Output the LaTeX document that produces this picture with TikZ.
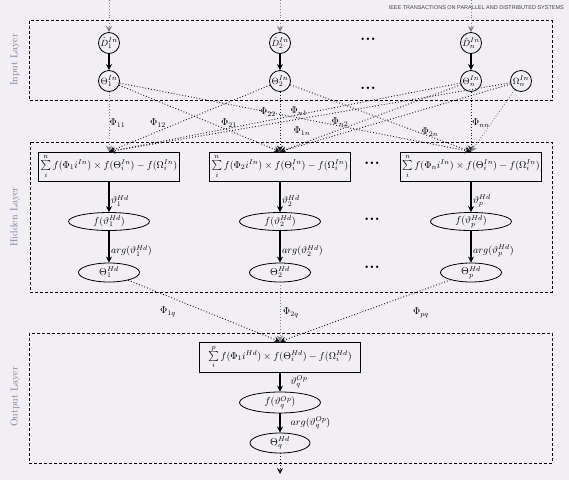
\documentclass[tikz,border=0pt]{standalone}
\usepackage{amsmath}
\usepackage{fontspec}
\newfontfamily\headfont{Liberation Sans}
\usetikzlibrary{shapes.geometric,arrows.meta}
\definecolor{bgc}{HTML}{F2EFF4}
\definecolor{layc}{HTML}{7D7B9E}
\definecolor{dotc}{HTML}{1A1A1A}
\begin{document}
\begin{tikzpicture}[x=1pt,y=-1pt,
  every node/.style={font=\fontsize{10}{12}\selectfont},
  layerbox/.style={draw, dash pattern=on 3pt off 2pt, line width=0.8pt},
  layerlabel/.style={rotate=90, text=layc, inner sep=0pt, font=\fontsize{10}{12}\selectfont},
  incirc/.style={circle, draw, line width=0.8pt, minimum size=21pt, inner sep=0pt, font=\fontsize{9.5}{11}\selectfont},
  sumbox/.style={draw, line width=0.8pt, minimum width=141pt, minimum height=29pt, inner sep=1pt, font=\fontsize{10}{12}\selectfont},
  fell/.style={ellipse, draw, line width=0.8pt, minimum width=81pt, minimum height=18pt, inner sep=0pt},
  tell/.style={ellipse, draw, line width=0.8pt, minimum width=61pt, minimum height=19pt, inner sep=0pt},
  sarr/.style={-{Stealth[length=6pt,width=6pt]}, line width=1.1pt},
  darr/.style={dotted, line width=0.9pt, draw=dotc, -{Stealth[length=6pt,width=6pt]}},
  garr/.style={darr, draw=gray},
  ellipsisnode/.style={font=\fontsize{17}{17}\bfseries\selectfont, inner sep=0pt},
  lab/.style={inner sep=0pt}
]
\fill[bgc] (0,0) rectangle (569,480);
\useasboundingbox (0,0) rectangle (569,480);

% header
\node[anchor=east, inner sep=0pt, text=black!75, font=\headfont\fontsize{5.5}{6}\selectfont] (hdr) at (564,7.5) {IEEE TRANSACTIONS ON PARALLEL AND DISTRIBUTED SYSTEMS};

% layer boxes
\draw[layerbox] (29,20.5) rectangle (552,100);
\draw[layerbox] (30,142) rectangle (552,292);
\draw[layerbox] (29,333) rectangle (552,463);
\node[layerlabel] (Lin) at (15,60) {Input Layer};
\node[layerlabel] (Lhd) at (15,217) {Hidden Layer};
\node[layerlabel] (Lout) at (15,397) {Output Layer};

% input layer
\coordinate (in1) at (109,0);
\coordinate (in2) at (280,0);
\coordinate (inn) at (471,0);
\node[incirc] (D1) at (109,43) {$\hat{D}_1^{In}$};
\node[incirc] (D2) at (280,43) {$\hat{D}_2^{In}$};
\node[incirc] (Dn) at (471,43) {$\hat{D}_n^{In}$};
\node[incirc] (T1) at (109,81) {$\Theta_1^{In}$};
\node[incirc] (T2) at (280,81) {$\Theta_2^{In}$};
\node[incirc] (Tn) at (471,81) {$\Theta_n^{In}$};
\node[incirc] (On) at (521,81) {$\Omega_n^{In}$};
\node[ellipsisnode] (e1) at (368,39) {...};
\node[ellipsisnode] (e2) at (368,88) {...};

\draw[garr] (in1) -- (D1);
\draw[garr] (in2) -- (D2);
\draw[garr] (inn) -- (Dn);
\draw[sarr] (D1) -- (T1);
\draw[sarr] (D2) -- (T2);
\draw[sarr] (Dn) -- (Tn);

% hidden layer
\node[sumbox] (S1) at (109,166.5) {$\sum\limits_i^n f(\Phi_1 i^{In})\times f(\Theta_i^{In})-f(\Omega_i^{In})$};
\node[sumbox] (S2) at (280,166.5) {$\sum\limits_i^n f(\Phi_2 i^{In})\times f(\Theta_i^{In})-f(\Omega_i^{In})$};
\node[sumbox] (Sn) at (471,166.5) {$\sum\limits_i^n f(\Phi_n i^{In})\times f(\Theta_i^{In})-f(\Omega_i^{In})$};
\node[fell] (F1) at (109,221.5) {$f(\vartheta_1^{Hd})$};
\node[fell] (F2) at (280,221.5) {$f(\vartheta_2^{Hd})$};
\node[fell] (Fp) at (471,221.5) {$f(\vartheta_p^{Hd})$};
\node[tell] (H1) at (109,272.5) {$\Theta_1^{Hd}$};
\node[tell] (H2) at (280,272.5) {$\Theta_2^{Hd}$};
\node[tell] (Hp) at (471,272.5) {$\Theta_p^{Hd}$};
\node[ellipsisnode] (e3) at (372,163) {...};
\node[ellipsisnode] (e4) at (372,219) {...};
\node[ellipsisnode] (e5) at (372,267) {...};

% input -> hidden connections
\draw[garr] (T1) -- (S1.north);
\draw[darr] (T1) -- (S2.north);
\draw[darr] (T1) -- (Sn.north);
\draw[darr] (T2) -- (S1.north);
\draw[darr] (T2) -- (S2.north);
\draw[darr] (T2) -- (Sn.north);
\draw[darr] (Tn) -- (S1.north);
\draw[darr] (Tn) -- (S2.north);
\draw[darr] (Tn) -- (Sn.north);
\draw[darr] (On) -- (S1.north);
\draw[darr] (On) -- (S2.north);
\draw[garr] (On) -- (Sn.north);

\node[lab] (p11) at (117.5,123) {$\Phi_{11}$};
\node[lab] (p12) at (158,123) {$\Phi_{12}$};
\node[lab] (p21) at (229,123) {$\Phi_{21}$};
\node[lab] (p22) at (268,112) {$\Phi_{22}$};
\node[lab] (pn1) at (299,111) {$\Phi_{n1}$};
\node[lab] (pn2) at (340,122) {$\Phi_{n2}$};
\node[lab] (p1n) at (302,131) {$\Phi_{1n}$};
\node[lab] (p2n) at (430,132) {$\Phi_{2n}$};
\node[lab] (pnn) at (481,123) {$\Phi_{nn}$};

\draw[sarr] (S1) -- node[lab, anchor=west, xshift=1.5pt, yshift=-4pt] (v1) {$\vartheta_1^{Hd}$} (F1);
\draw[sarr] (S2) -- node[lab, anchor=west, xshift=1.5pt, yshift=-4pt] (v2) {$\vartheta_2^{Hd}$} (F2);
\draw[sarr] (Sn) -- node[lab, anchor=west, xshift=1.5pt, yshift=-4pt] (vp) {$\vartheta_p^{Hd}$} (Fp);
\draw[sarr] (F1) -- node[lab, anchor=west, xshift=1.5pt, yshift=-4pt] (a1) {$arg(\vartheta_1^{Hd})$} (H1);
\draw[sarr] (F2) -- node[lab, anchor=west, xshift=1.5pt, yshift=-4pt] (a2) {$arg(\vartheta_2^{Hd})$} (H2);
\draw[sarr] (Fp) -- node[lab, anchor=west, xshift=1.5pt, yshift=-4pt] (ap) {$arg(\vartheta_p^{Hd})$} (Hp);

% output layer
\node[sumbox, minimum width=161pt, minimum height=30pt] (SO) at (280,357) {$\sum\limits_i^p f(\Phi_1 i^{Hd})\times f(\Theta_i^{Hd})-f(\Omega_i^{Hd})$};
\node[fell, minimum height=21pt] (FO) at (280,402.5) {$f(\vartheta_q^{Op})$};
\node[tell, minimum width=60pt, minimum height=20pt] (HO) at (280,443) {$\Theta_q^{Hd}$};
\coordinate (outend) at (280,474);

\draw[darr] (H1) -- (SO.north);
\draw[garr] (H2) -- (SO.north);
\draw[darr] (Hp) -- (SO.north);
\node[lab] (p1q) at (168,312) {$\Phi_{1q}$};
\node[lab] (p2q) at (291,313) {$\Phi_{2q}$};
\node[lab] (ppq) at (421,313) {$\Phi_{pq}$};

\draw[sarr] (SO) -- node[lab, anchor=west, xshift=10pt] (vo) {$\vartheta_q^{Op}$} (FO);
\draw[sarr] (FO) -- node[lab, anchor=west, xshift=10pt] (ao) {$arg(\vartheta_q^{Op})$} (HO);
\draw[darr] (HO) -- (outend);
\end{tikzpicture}
\end{document}
